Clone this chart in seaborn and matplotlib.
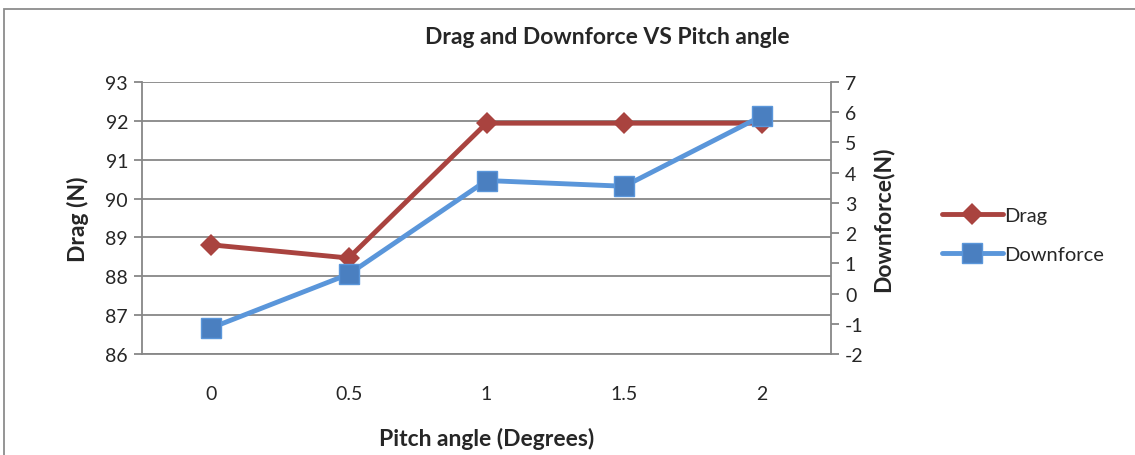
import matplotlib
matplotlib.use("Agg")
import matplotlib.pyplot as plt
import numpy as np
import pandas as pd
import seaborn as sns
from matplotlib.lines import Line2D
from matplotlib.patches import Rectangle

categories = ["0", "0.5", "1", "1.5", "2"]
drag = [88.81, 88.47, 91.94, 91.94, 91.94]
downforce = [-1.14, 0.64, 3.74, 3.55, 5.88]

sns.set_style("white")
plt.rcParams['font.family'] = ['Lato', 'DejaVu Sans']
plt.rcParams['axes.unicode_minus'] = False

red_line = "#A9433F"
blue_line = "#5A96DA"
blue_mark = "#4A7FC0"
grid_col = "#878787"

df = pd.DataFrame({"pos": np.arange(len(categories)), "Drag": drag, "Downforce": downforce})

fig = plt.figure(figsize=(11.35, 4.56), dpi=100)
ax = fig.add_axes([142/1135, 1-355/456, (831-142)/1135, (355-83)/456])
ax2 = ax.twinx()

sns.lineplot(data=df, x="pos", y="Drag", ax=ax, color=red_line, lw=3.5,
             marker="D", markersize=11, markeredgewidth=0, zorder=3)
sns.lineplot(data=df, x="pos", y="Downforce", ax=ax2, color=blue_line, lw=3.5,
             marker="s", markersize=14, markerfacecolor=blue_mark,
             markeredgecolor=blue_line, markeredgewidth=1, zorder=3)

ax.set_xlim(-0.5, len(categories) - 0.5)
ax.set_ylim(86, 93)
ax2.set_ylim(-2, 7)
ax.set_xticks(df["pos"])
ax.set_xticklabels(categories)
ax.set_yticks(range(86, 94))
ax2.set_yticks(range(-2, 8))

ax.grid(axis="y", color=grid_col, lw=1.3)
ax.set_axisbelow(True)
for a in (ax, ax2):
    for s in a.spines.values():
        s.set_visible(False)
ax.spines["left"].set_visible(True)
ax.spines["bottom"].set_visible(True)
ax2.spines["right"].set_visible(True)
for s in (ax.spines["left"], ax.spines["bottom"], ax2.spines["right"]):
    s.set_color(grid_col)
    s.set_linewidth(1.3)

ax.tick_params(axis="y", which="both", left=True, length=6, color=grid_col, width=1.3, labelsize=14, pad=4)
ax.tick_params(axis="x", bottom=False, labelsize=14, pad=19)
ax2.tick_params(axis="y", right=True, length=6, color=grid_col, width=1.3, labelsize=14, pad=4)

ax.set_xlabel("Pitch angle (Degrees)", fontsize=16.5, fontweight="bold", labelpad=18)
ax.set_ylabel("Drag (N)", fontsize=16.5, fontweight="bold", labelpad=12)
ax2.set_ylabel("Downforce(N)", fontsize=16.5, fontweight="bold", labelpad=6)
fig.suptitle("Drag and Downforce VS Pitch angle", x=607/1135, y=1-37/456, va="center",
             fontsize=16.5, fontweight="bold")

handles = [
    Line2D([], [], color=red_line, lw=3.5, marker="D", markersize=11, markeredgewidth=0),
    Line2D([], [], color=blue_line, lw=3.5, marker="s", markersize=14,
           markerfacecolor=blue_mark, markeredgecolor=blue_line),
]
fig.legend(handles, ["Drag", "Downforce"], loc="center left",
           bbox_to_anchor=(924/1135, 1-236/456), frameon=False, fontsize=14.5,
           handlelength=3, handletextpad=0.1, labelspacing=1.1)

fig.patches.append(Rectangle((4/1135, -0.1), 1.2, 1-10/456 + 0.1, transform=fig.transFigure,
                             fill=False, edgecolor="#8C8C8C", lw=1.3))

fig.savefig("out.png", dpi=100)
